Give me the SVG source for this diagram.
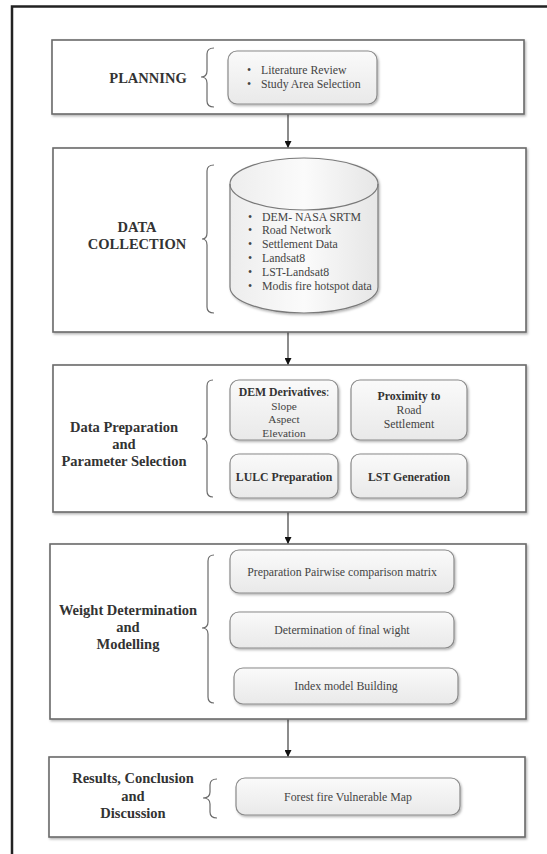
<svg xmlns="http://www.w3.org/2000/svg" width="547" height="854" viewBox="0 0 547 854">
  <defs>
    <style>
      .stage { fill: #ffffff; stroke: #6a6a6a; stroke-width: 1.6; filter: url(#shadow); }
      .item { fill: url(#itemFill); stroke: #8a8a8a; stroke-width: 1.2; filter: url(#shadow); }
      .brace { fill: none; stroke: #6a6a6a; stroke-width: 1.2; }
      .conn { fill: none; stroke: #666666; stroke-width: 1.5; marker-end: url(#arrow); }
      .head { font-family: "Liberation Serif", "Times New Roman", serif; font-weight: bold; font-size: 14.5px; fill: #333333; text-anchor: middle; }
      .txt { font-family: "Liberation Serif", "Times New Roman", serif; font-size: 11.8px; fill: #444444; }
      .sm { font-size: 11.3px; }
      .mid { text-anchor: middle; }
      .b { font-weight: bold; fill: #333333; }
    </style>
    <linearGradient id="itemFill" x1="0" y1="0" x2="0" y2="1">
      <stop offset="0" stop-color="#fafafa"/>
      <stop offset="1" stop-color="#e9e9e9"/>
    </linearGradient>
    <linearGradient id="cylFill" x1="0" y1="0" x2="1" y2="0">
      <stop offset="0" stop-color="#ededed"/>
      <stop offset="0.5" stop-color="#fbfbfb"/>
      <stop offset="1" stop-color="#e6e6e6"/>
    </linearGradient>
    <filter id="shadow" x="-5%" y="-5%" width="115%" height="120%">
      <feDropShadow dx="1.2" dy="1.5" stdDeviation="0.9" flood-color="#000000" flood-opacity="0.3"/>
    </filter>
    <marker id="arrow" viewBox="0 0 8 8" refX="8" refY="4" markerWidth="7" markerHeight="7" markerUnits="userSpaceOnUse" orient="auto">
      <path d="M0,0 L8,4 L0,8 z" fill="#111111"/>
    </marker>
  </defs>

  <rect width="547" height="854" fill="#ffffff"/>

  <!-- outer frame, running off the right and bottom edges -->
  <rect x="12" y="6.5" width="600" height="900" fill="none" stroke="#222222" stroke-width="2.5"/>

  <!-- connectors between the stages -->
  <g id="connectors">
    <line class="conn" x1="288" y1="114" x2="288" y2="148"/>
    <line class="conn" x1="288" y1="332" x2="288" y2="365"/>
    <line class="conn" x1="288" y1="512" x2="288" y2="544"/>
    <line class="conn" x1="288" y1="719" x2="288" y2="757"/>
  </g>

  <!-- stage 1 -->
  <g id="planning">
    <rect class="stage" x="52" y="40" width="472" height="74"/>
    <text class="head" x="148" y="83">PLANNING</text>
    <path class="brace" d="M214,48 Q207,48 207,54 L207,71 Q207,77 201,77 Q207,77 207,83 L207,101 Q207,107 214,107"/>
    <rect class="item" x="228" y="51" width="149" height="53" rx="9"/>
    <text class="txt" x="247" y="74">•</text>
    <text class="txt" x="261" y="74">Literature Review</text>
    <text class="txt" x="247" y="88">•</text>
    <text class="txt" x="261" y="88">Study Area Selection</text>
  </g>

  <!-- stage 2 -->
  <g id="data-collection">
    <rect class="stage" x="53" y="148" width="473" height="184"/>
    <text class="head" x="137" y="232">DATA</text>
    <text class="head" x="137" y="249">COLLECTION</text>
    <path class="brace" d="M214,165 Q207,165 207,171 L207,233 Q207,239 202,239 Q207,239 207,245 L207,307 Q207,313 214,313"/>
    <path d="M230,184 L230,287 A74,26 0 0 0 378,287 L378,184 A74,26 0 0 0 230,184 Z" fill="url(#cylFill)" stroke="#7a7a7a" stroke-width="1.2" filter="url(#shadow)"/>
    <path d="M230,184 A74,26 0 0 0 378,184" fill="none" stroke="#7a7a7a" stroke-width="1.2"/>
    <text class="txt" x="248" y="221">•</text>
    <text class="txt" x="262" y="221">DEM- NASA SRTM</text>
    <text class="txt" x="248" y="234">•</text>
    <text class="txt" x="262" y="234">Road Network</text>
    <text class="txt" x="248" y="248">•</text>
    <text class="txt" x="262" y="248">Settlement Data</text>
    <text class="txt" x="248" y="262">•</text>
    <text class="txt" x="262" y="262">Landsat8</text>
    <text class="txt" x="248" y="276">•</text>
    <text class="txt" x="262" y="276">LST-Landsat8</text>
    <text class="txt" x="248" y="290">•</text>
    <text class="txt" x="262" y="290">Modis fire hotspot data</text>
  </g>

  <!-- stage 3 -->
  <g id="data-preparation">
    <rect class="stage" x="53" y="365" width="473" height="147"/>
    <text class="head" x="124" y="432">Data Preparation</text>
    <text class="head" x="124" y="449">and</text>
    <text class="head" x="124" y="466">Parameter Selection</text>
    <path class="brace" d="M213,380 Q207,380 207,386 L207,433 Q207,439 202,439 Q207,439 207,445 L207,491 Q207,497 213,497"/>
    <g id="dem-derivatives">
      <rect class="item" x="230" y="380" width="108" height="60" rx="9"/>
      <text class="txt mid" x="284" y="396"><tspan class="b">DEM Derivatives</tspan>:</text>
      <text class="txt sm mid" x="284" y="409.5">Slope</text>
      <text class="txt sm mid" x="284" y="423">Aspect</text>
      <text class="txt sm mid" x="284" y="436.5">Elevation</text>
    </g>
    <g id="proximity">
      <rect class="item" x="351" y="380" width="116" height="60" rx="9"/>
      <text class="txt mid b" x="409" y="400">Proximity to</text>
      <text class="txt mid" x="409" y="414">Road</text>
      <text class="txt mid" x="409" y="428">Settlement</text>
    </g>
    <g id="lulc">
      <rect class="item" x="230" y="454" width="108" height="44" rx="9"/>
      <text class="txt mid b" x="284" y="481">LULC Preparation</text>
    </g>
    <g id="lst">
      <rect class="item" x="351" y="454" width="116" height="44" rx="9"/>
      <text class="txt mid b" x="409" y="481">LST Generation</text>
    </g>
  </g>

  <!-- stage 4 -->
  <g id="weight-determination">
    <rect class="stage" x="50" y="544" width="476" height="175"/>
    <text class="head" x="128" y="615">Weight Determination</text>
    <text class="head" x="128" y="632">and</text>
    <text class="head" x="128" y="649">Modelling</text>
    <path class="brace" d="M214,555 Q208,555 208,561 L208,622 Q208,628 202,628 Q208,628 208,634 L208,697 Q208,703 214,703"/>
    <g id="pairwise">
      <rect class="item" x="230" y="550" width="224" height="43" rx="9"/>
      <text class="txt mid" x="342" y="576">Preparation Pairwise comparison matrix</text>
    </g>
    <g id="final-weight">
      <rect class="item" x="230" y="612" width="224" height="36" rx="9"/>
      <text class="txt mid" x="342" y="634">Determination of final wight</text>
    </g>
    <g id="index-model">
      <rect class="item" x="234" y="668" width="224" height="36" rx="9"/>
      <text class="txt mid" x="346" y="690">Index model Building</text>
    </g>
  </g>

  <!-- stage 5 -->
  <g id="results">
    <rect class="stage" x="49" y="757" width="476" height="80"/>
    <text class="head" x="133" y="783">Results, Conclusion</text>
    <text class="head" x="133" y="801">and</text>
    <text class="head" x="133" y="818">Discussion</text>
    <path class="brace" d="M217,779 Q210,779 210,785 L210,792 Q210,798 203,798 Q210,798 210,804 L210,812 Q210,818 217,818"/>
    <rect class="item" x="236" y="778" width="224" height="37" rx="9"/>
    <text class="txt mid" x="348" y="801">Forest fire Vulnerable Map</text>
  </g>
</svg>
